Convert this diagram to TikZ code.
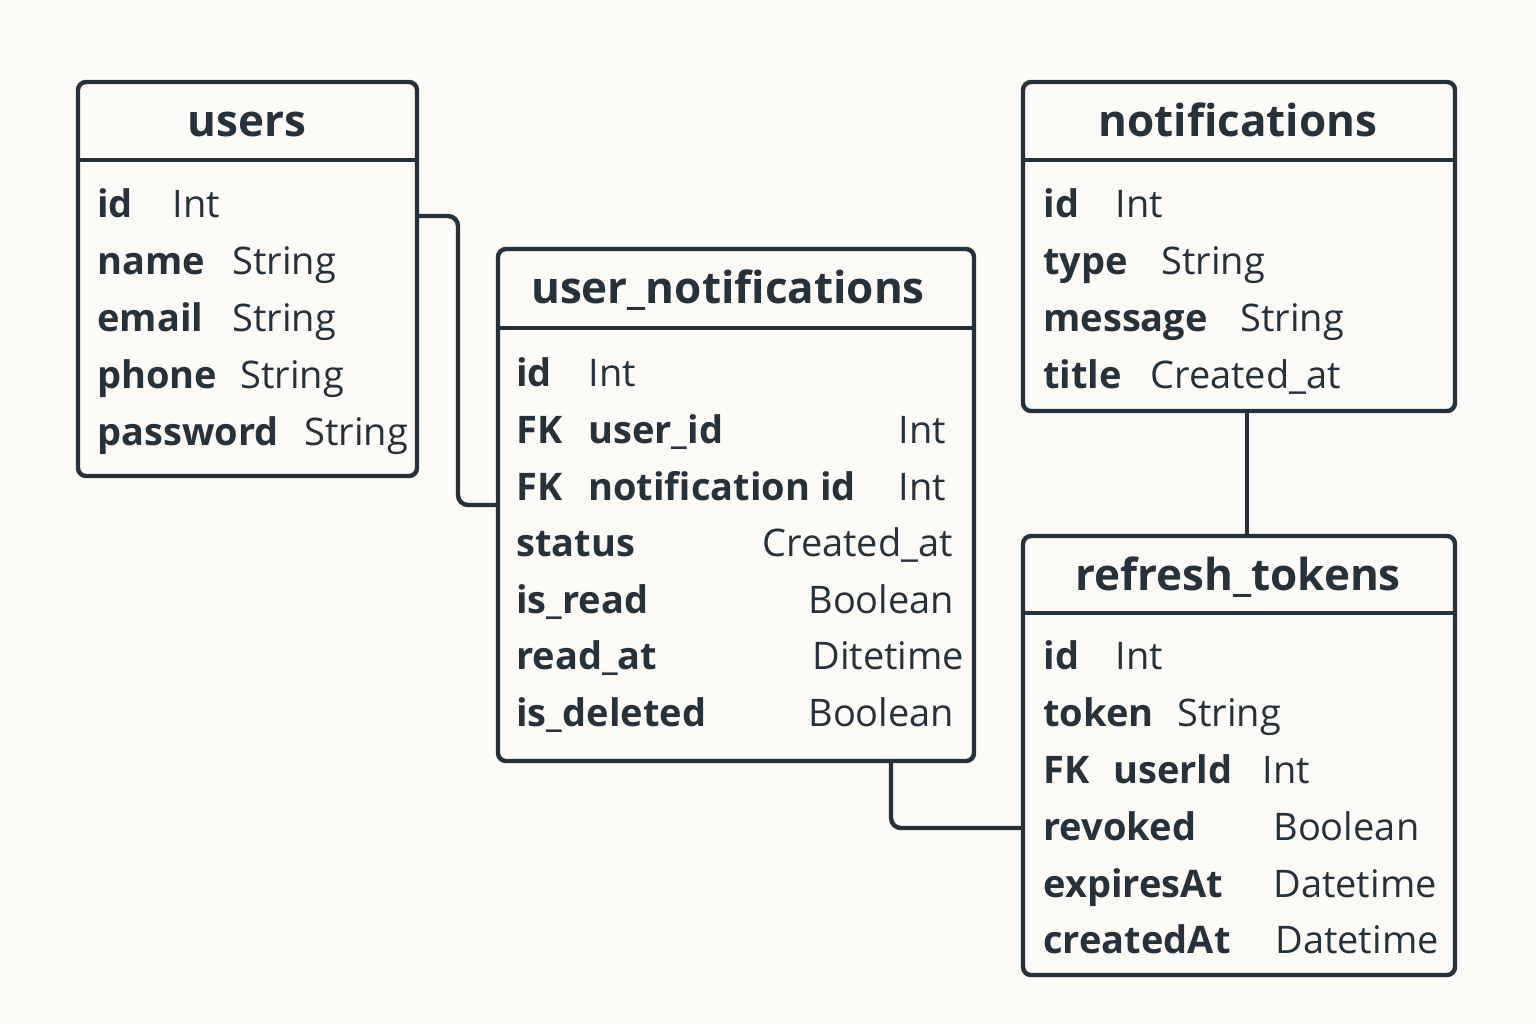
\documentclass[tikz,border=0pt]{standalone}
\usepackage{fontspec}
\setmainfont{Open Sans}
\usetikzlibrary{fit}
\definecolor{ink}{HTML}{27313A}
\definecolor{bg}{HTML}{FCFBF7}
\begin{document}
\begin{tikzpicture}[x=0.5pt,y=-0.5pt,
  box/.style={draw=ink, line width=2.2pt, rounded corners=4pt, inner sep=0pt},
  sep/.style={draw=ink, line width=2.2pt},
  conn/.style={draw=ink, line width=2.2pt, rounded corners=5pt},
  fb/.style={anchor=base west, inner sep=0pt, text=ink, font=\fontsize{19pt}{22pt}\selectfont\bfseries},
  ft/.style={anchor=base west, inner sep=0pt, text=ink, font=\fontsize{19pt}{22pt}\selectfont},
  ttl/.style={anchor=base, inner sep=0pt, text=ink, font=\fontsize{22pt}{26pt}\selectfont\bfseries}]
\fill[bg] (0,0) rectangle (1536,1024);
\useasboundingbox (0,0) rectangle (1536,1024);

% boxes
\node[box, fit={(78,82) (417,476)}] (users) {};
\node[box, fit={(498,249) (974,761)}] (un) {};
\node[box, fit={(1023,82) (1455,411)}] (notif) {};
\node[box, fit={(1023,536) (1455,975)}] (rt) {};

% header separators
\draw[sep] (users.west |- 0,160) -- (users.east |- 0,160);
\draw[sep] (un.west |- 0,328) -- (un.east |- 0,328);
\draw[sep] (notif.west |- 0,160) -- (notif.east |- 0,160);
\draw[sep] (rt.west |- 0,613) -- (rt.east |- 0,613);

% titles
\node[ttl] (usersT) at (247,136) {users};
\node[ttl] (unT) at (728,303) {user\_notifications};
\node[ttl] (notifT) at (1238,136) {notifications};
\node[ttl] (rtT) at (1238,590) {refresh\_tokens};

% users fields
\node[fb] (u1n) at (97,217) {id};       \node[ft] (u1t) at (172,217) {Int};
\node[fb] (u2n) at (97,274) {name};     \node[ft] (u2t) at (232,274) {String};
\node[fb] (u3n) at (97,331) {email};    \node[ft] (u3t) at (232,331) {String};
\node[fb] (u4n) at (97,388) {phone};    \node[ft] (u4t) at (240,388) {String};
\node[fb] (u5n) at (97,445) {password}; \node[ft] (u5t) at (304,445) {String};

% user_notifications fields
\node[fb] (n1n) at (516,386) {id};  \node[ft] (n1t) at (588,386) {Int};
\node[fb] (n2k) at (516,443) {FK};  \node[fb] (n2n) at (588,443) {user\_id}; \node[ft] (n2t) at (898,443) {Int};
\node[fb] (n3k) at (516,500) {FK};  \node[fb] (n3n) at (588,500) {notification id}; \node[ft] (n3t) at (898,500) {Int};
\node[fb] (n4n) at (516,556) {status};     \node[ft] (n4t) at (762,556) {Created\_at};
\node[fb] (n5n) at (516,613) {is\_read};   \node[ft] (n5t) at (808,613) {Boolean};
\node[fb] (n6n) at (516,669) {read\_at};   \node[ft] (n6t) at (812,669) {Ditetime};
\node[fb] (n7n) at (516,726) {is\_deleted};\node[ft] (n7t) at (808,726) {Boolean};

% notifications fields
\node[fb] (m1n) at (1043,217) {id};      \node[ft] (m1t) at (1115,217) {Int};
\node[fb] (m2n) at (1043,274) {type};    \node[ft] (m2t) at (1161,274) {String};
\node[fb] (m3n) at (1043,331) {message}; \node[ft] (m3t) at (1240,331) {String};
\node[fb] (m4n) at (1043,388) {title};   \node[ft] (m4t) at (1150,388) {Created\_at};

% refresh_tokens fields
\node[fb] (r1n) at (1043,669) {id};    \node[ft] (r1t) at (1115,669) {Int};
\node[fb] (r2n) at (1043,726) {token}; \node[ft] (r2t) at (1177,726) {String};
\node[fb] (r3k) at (1043,783) {FK};    \node[fb] (r3n) at (1113,783) {userld}; \node[ft] (r3t) at (1262,783) {Int};
\node[fb] (r4n) at (1043,840) {revoked};   \node[ft] (r4t) at (1273,840) {Boolean};
\node[fb] (r5n) at (1043,897) {expiresAt}; \node[ft] (r5t) at (1273,897) {Datetime};
\node[fb] (r6n) at (1043,953) {createdAt}; \node[ft] (r6t) at (1275,953) {Datetime};

% connectors
\draw[conn] (users.east |- 0,216) -- (458,216) -- (458,505) -- (un.west |- 0,505);
\draw[conn] (notif.south -| 1247,0) -- (rt.north -| 1247,0);
\draw[conn] (un.south -| 891,0) -- (891,828) -- (rt.west |- 0,828);
\end{tikzpicture}
\end{document}
